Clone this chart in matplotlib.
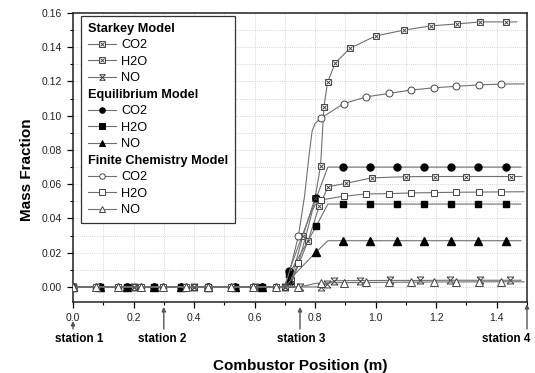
import matplotlib
matplotlib.use('Agg')
import matplotlib.pyplot as plt
import matplotlib.transforms as mtransforms
from matplotlib.lines import Line2D
from matplotlib.path import Path
from matplotlib.patches import Rectangle
from matplotlib.ticker import MultipleLocator

plt.rcParams['font.family'] = ['Liberation Sans', 'DejaVu Sans']

##########
#  data  #
##########
# Starkey model
stk_co2_x = [0.0, 0.2, 0.4, 0.6, 0.7, 0.72, 0.76, 0.80, 0.818, 0.829, 0.841, 0.866, 0.915,
             1.0, 1.093, 1.183, 1.269, 1.345, 1.43, 1.467]
stk_co2_y = [0.0, 0.0, 0.0, 0.0, 0.0, 0.004, 0.03, 0.052, 0.0709, 0.105, 0.1195, 0.1306, 0.1394,
             0.1466, 0.150, 0.1525, 0.1536, 0.1548, 0.1548, 0.1548]
stk_h2o_x = [0.0, 0.2, 0.4, 0.6, 0.7, 0.72, 0.777, 0.813, 0.843, 0.902, 0.987, 1.10, 1.196,
             1.297, 1.446, 1.483]
stk_h2o_y = [0.0, 0.0, 0.0, 0.0, 0.0, 0.002, 0.027, 0.047, 0.0586, 0.0605, 0.0637, 0.0644, 0.0645,
             0.0645, 0.0645, 0.0645]
stk_no_x = [0.0, 0.2, 0.4, 0.6, 0.7, 0.75, 0.82, 0.84, 0.863, 0.948, 1.047, 1.146, 1.245,
            1.345, 1.443, 1.48]
stk_no_y = [0.0, 0.0, 0.0, 0.0, 0.0, 0.0, 0.0, 0.002, 0.0036, 0.0037, 0.0038, 0.0038, 0.0039,
            0.0039, 0.0039, 0.0039]

# Equilibrium model
eq_x = [0.0, 0.089, 0.179, 0.268, 0.357, 0.446, 0.536, 0.625, 0.70, 0.714, 0.804, 0.842,
        0.893, 0.982, 1.071, 1.161, 1.25, 1.339, 1.429, 1.48]
eq_co2 = [0.0, 0.0, 0.0, 0.0, 0.0, 0.0, 0.0, 0.0, 0.0, 0.0093, 0.052, 0.070,
          0.070, 0.070, 0.070, 0.070, 0.070, 0.070, 0.070, 0.070]
eq_h2o = [0.0, 0.0, 0.0, 0.0, 0.0, 0.0, 0.0, 0.0, 0.0, 0.0075, 0.0356, 0.0484,
          0.0484, 0.0484, 0.0484, 0.0484, 0.0484, 0.0484, 0.0484, 0.0484]
eq_no = [0.0, 0.0, 0.0, 0.0, 0.0, 0.0, 0.0, 0.0, 0.0, 0.004, 0.0205, 0.027,
         0.027, 0.027, 0.027, 0.027, 0.027, 0.027, 0.027, 0.027]
eq_marks = [0, 1, 2, 3, 4, 5, 6, 7, 9, 10, 12, 13, 14, 15, 16, 17, 18]

# Finite chemistry model
fc_x = [0.0, 0.0745, 0.149, 0.2235, 0.298, 0.3725, 0.447, 0.5215, 0.596, 0.6705, 0.70, 0.72,
        0.745, 0.765, 0.78, 0.79, 0.80, 0.8195, 0.894, 0.9685, 1.043, 1.1175, 1.192, 1.2665,
        1.341, 1.4155, 1.49]
fc_co2 = [0.0, 0.0, 0.0, 0.0, 0.0, 0.0, 0.0, 0.0, 0.0, 0.0, 0.0, 0.012,
          0.03, 0.053, 0.077, 0.091, 0.0955, 0.0987, 0.107, 0.111, 0.113, 0.115, 0.1163, 0.1172,
          0.118, 0.1185, 0.1186]
fc_h2o = [0.0, 0.0, 0.0, 0.0, 0.0, 0.0, 0.0, 0.0, 0.0, 0.0, 0.0, 0.004,
          0.014, 0.027, 0.037, 0.044, 0.048, 0.0508, 0.053, 0.0543, 0.0545, 0.0549, 0.0551, 0.0553,
          0.0554, 0.0555, 0.0556]
fc_marks = [0, 1, 2, 3, 4, 5, 6, 7, 8, 9, 12, 17, 18, 19, 20, 21, 22, 23, 24, 25]
fc_no_x = [0.0, 0.0745, 0.149, 0.2235, 0.298, 0.3725, 0.447, 0.5215, 0.596, 0.6705, 0.745,
           0.77, 0.80, 0.8195, 0.894, 0.9685, 1.043, 1.1175, 1.192, 1.2665, 1.341, 1.4155, 1.49]
fc_no = [0.0, 0.0, 0.0, 0.0, 0.0, 0.0, 0.0, 0.0, 0.0, 0.0, 0.0,
         0.0008, 0.002, 0.0023, 0.0025, 0.0026, 0.0027, 0.0028, 0.0029, 0.0029, 0.003, 0.003, 0.003]
fc_no_marks = [0, 1, 2, 3, 4, 5, 6, 7, 8, 9, 10, 13, 14, 15, 16, 17, 18, 19, 20, 21]

stations = [0.0, 0.3, 0.75, 1.5]
station_names = ['station 1', 'station 2', 'station 3', 'station 4']

###########
#  style  #
###########
LC = '#707070'
MC = '#444444'
hourglass = Path([(-1, -1), (1, 1), (-1, 1), (1, -1), (-1, 1), (1, 1), (-1, -1), (1, -1)],
                 [Path.MOVETO, Path.LINETO] * 4)

fig = plt.figure(figsize=(5.35, 3.73), dpi=100)
ax = fig.add_axes([73 / 535, 1 - 302 / 373, 454 / 535, 289 / 373])

def xsq(x, y, mk=None, ms=4.6):
    # crossed square marker = open square + x
    ax.plot(x, y, color=LC, lw=0.8, marker='s', ms=ms, mfc='white', mec=MC, mew=0.7,
            markevery=mk, zorder=3)
    ax.plot(x, y, ls='none', marker='x', ms=ms * 0.75, mec=MC, mew=0.7,
            markevery=mk, zorder=4)

n = len(stk_co2_x)
xsq(stk_co2_x, stk_co2_y, list(range(n - 1)))
n = len(stk_h2o_x)
xsq(stk_h2o_x, stk_h2o_y, list(range(n - 1)))
n = len(stk_no_x)
ax.plot(stk_no_x, stk_no_y, color=LC, lw=0.8, marker=hourglass, ms=5, mec=MC, mew=0.7,
        markevery=list(range(n - 1)), zorder=4)

ax.plot(eq_x, eq_co2, color=LC, lw=0.8, marker='o', ms=5, mfc='black', mec='black',
        markevery=eq_marks, zorder=3)
ax.plot(eq_x, eq_h2o, color=LC, lw=0.8, marker='s', ms=4.6, mfc='black', mec='black',
        markevery=eq_marks, zorder=3)
ax.plot(eq_x, eq_no, color=LC, lw=0.8, marker='^', ms=5.2, mfc='black', mec='black',
        markevery=eq_marks, zorder=3)

ax.plot(fc_x, fc_co2, color=LC, lw=0.8, marker='o', ms=5, mfc='white', mec=MC, mew=0.7,
        markevery=fc_marks, zorder=3)
ax.plot(fc_x, fc_h2o, color=LC, lw=0.8, marker='s', ms=4.6, mfc='white', mec=MC, mew=0.7,
        markevery=fc_marks, zorder=3)
ax.plot(fc_no_x, fc_no, color=LC, lw=0.8, marker='^', ms=5.4, mfc='white', mec=MC, mew=0.7,
        markevery=fc_no_marks, zorder=5)

##########
#  axes  #
##########
ax.set_xlim(0, 1.5)
ax.set_ylim(-0.0088, 0.16)
ax.xaxis.set_major_locator(MultipleLocator(0.2))
ax.xaxis.set_minor_locator(MultipleLocator(0.1))
ax.yaxis.set_major_locator(MultipleLocator(0.02))
ax.yaxis.set_minor_locator(MultipleLocator(0.01))
ax.xaxis.set_major_formatter(plt.FuncFormatter(lambda v, p: f'{v:.1f}'))
ax.yaxis.set_major_formatter(plt.FuncFormatter(lambda v, p: f'{v:.2f}'))
ax.grid(which='both', ls=(0, (1, 1.5)), color='#c8c8c8', lw=0.6)
ax.set_axisbelow(True)
ax.tick_params(which='major', direction='out', length=4, width=0.9, labelsize=7.5,
               labelcolor='#222222', pad=4)
ax.tick_params(which='minor', direction='out', length=2.5, width=0.8)
for s in ax.spines.values():
    s.set_linewidth(1.1)
    s.set_color('#222222')

fig.text(27 / 535, 1 - 170 / 373, 'Mass Fraction', rotation=90, ha='center', va='center',
         fontsize=11, fontweight='bold')
fig.text(300 / 535, 1 - 366 / 373, 'Combustor Position (m)', ha='center', va='center',
         fontsize=11, fontweight='bold')

# station markers under the x axis
trans = mtransforms.blended_transform_factory(ax.transData, fig.transFigure)
heads = [321, 307, 307, 304]
label_x = [0.02, 0.296, 0.755, 1.512]
label_ha = ['center', 'center', 'center', 'right']
for x, name, hy, lx, ha in zip(stations, station_names, heads, label_x, label_ha):
    ax.annotate('', xy=(x, 1 - hy / 373), xycoords=trans,
                xytext=(x, 1 - 329 / 373), textcoords=trans,
                arrowprops=dict(arrowstyle='-|>', color='#555555', lw=1.0,
                                shrinkA=0, shrinkB=0, mutation_scale=6),
                annotation_clip=False)
    ax.text(lx, 1 - 339 / 373, name, transform=trans, ha=ha, va='center',
            fontsize=8.5, fontweight='bold', clip_on=False)

############
#  legend  #
############
def hdr():
    return Line2D([], [], ls='none')

def lg(marker, mfc, mec, ms=4):
    return Line2D([], [], color=LC, lw=0.8, marker=marker, ms=ms, mfc=mfc, mec=mec, mew=0.7)

def lg_xsq():
    return (lg('s', 'white', MC, 3.8),
            Line2D([], [], ls='none', marker='x', ms=2.8, mec=MC, mew=0.7))

handles = [hdr(), lg_xsq(), lg_xsq(), lg(hourglass, 'none', MC, 4),
           hdr(), lg('o', 'black', 'black'), lg('s', 'black', 'black', 3.8), lg('^', 'black', 'black'),
           hdr(), lg('o', 'white', MC), lg('s', 'white', MC, 3.8), lg('^', 'white', MC)]
labels = ['Starkey Model', 'CO2', 'H2O', 'NO',
          'Equilibrium Model', 'CO2', 'H2O', 'NO',
          'Finite Chemistry Model', 'CO2', 'H2O', 'NO']
fs = 9.2
hl, htp = 2.2, 0.4
leg = ax.legend(handles, labels, loc='upper left', bbox_to_anchor=(8 / 454, 1 - 3 / 289),
                borderaxespad=0, fontsize=fs, handlelength=hl, handletextpad=htp,
                labelspacing=0.35, borderpad=0.55, numpoints=1, frameon=False)
headers = [0, 4, 8]
shift = (hl + htp) * fs * fig.dpi / 72
for i in headers:
    leg.get_texts()[i].set_fontweight('bold')
    leg.get_texts()[i].set_x(-shift)

fig.canvas.draw()
bb = leg.get_window_extent().transformed(ax.transAxes.inverted())
ax.add_patch(Rectangle((bb.x0, bb.y0), bb.width - shift / (454), bb.height,
                       transform=ax.transAxes, fc='white', ec='#333333', lw=0.9, zorder=6))
leg.set_zorder(7)

fig.savefig('out.png', dpi=100)
